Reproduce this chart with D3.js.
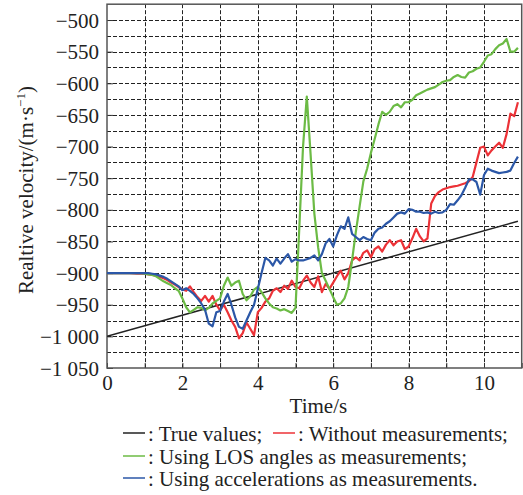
<!DOCTYPE html>
<html>
<head>
<meta charset="utf-8">
<script src="https://cdn.jsdelivr.net/npm/d3@7"></script>
<style>
  body { margin: 0; background: #fff; }
  svg text { font-family: "Liberation Serif", "DejaVu Serif", serif; fill: #222; }
</style>
</head>
<body>
<div id="chart"></div>
<script>
// sample times (s)
const times = [
  0.0, 0.1, 0.2, 0.3, 0.4, 0.5, 0.6, 0.7, 0.8, 0.9,
  1.0, 1.1, 1.2, 1.3, 1.4, 1.5, 1.6, 1.7, 1.8, 1.9,
  2.0, 2.1, 2.2, 2.3, 2.4, 2.5, 2.6, 2.7, 2.8, 2.9,
  3.0, 3.1, 3.2, 3.3, 3.4, 3.5, 3.6, 3.7, 3.8, 3.9,
  4.0, 4.1, 4.2, 4.3, 4.4, 4.5, 4.6, 4.7, 4.8, 4.9,
  5.0, 5.1, 5.2, 5.3, 5.4, 5.5, 5.6, 5.7, 5.8, 5.9,
  6.0, 6.1, 6.2, 6.3, 6.4, 6.5, 6.6, 6.7, 6.8, 6.9,
  7.0, 7.1, 7.2, 7.3, 7.4, 7.5, 7.6, 7.7, 7.8, 7.9,
  8.0, 8.1, 8.2, 8.3, 8.4, 8.5, 8.6, 8.7, 8.8, 8.9,
  9.0, 9.1, 9.2, 9.3, 9.4, 9.5, 9.6, 9.7, 9.8, 9.9,
  10.0, 10.1, 10.2, 10.3, 10.4, 10.5, 10.6, 10.7, 10.8, 10.9
];

// true values: straight line
const trueTimes = [0, 10.9];
const trueValues = [-1000, -818];

const withoutMeas = [
  -900, -900, -900, -900, -900, -900, -900, -900.5, -901, -900.5,
  -901, -902, -903, -904, -906, -908, -911, -915, -918, -922,
  -926, -928, -921, -930, -938, -944, -936, -945, -936, -950,
  -959, -950, -962, -975, -985, -1003, -995, -978, -988, -998,
  -962, -955, -945, -940, -928, -924, -930, -920, -925, -912,
  -922, -924, -912, -904, -915, -922, -905, -930, -917, -925,
  -915, -905, -896, -910, -900, -880, -875, -880, -868, -864,
  -875, -862, -858, -866, -855, -848, -856, -850, -848, -862,
  -858, -845, -830, -842, -850, -845, -790, -778, -772, -768,
  -766, -764, -763, -762, -760, -758, -755, -748, -725, -702,
  -700, -714, -706, -700, -694, -702, -680, -648, -652, -630
];

const losMeas = [
  -900, -900, -900, -900, -900, -900, -900, -900, -900, -900,
  -901, -902, -903, -905, -909, -913, -916, -919, -924, -928,
  -940, -954, -962, -958, -954, -955, -959, -955, -948, -944,
  -940, -920, -907, -920, -915, -912, -933, -943, -937, -926,
  -922, -930, -940, -948, -954, -956, -959, -957, -960, -963,
  -955, -830, -700, -621, -712, -806, -859, -900, -912, -925,
  -938, -950, -948, -940, -922, -880, -835, -795, -755, -735,
  -710, -688, -665, -645, -650, -645, -636, -633, -638, -630,
  -630, -626, -619, -616, -613, -610, -608, -606, -602, -598,
  -596, -595, -590, -587, -590, -591, -583, -581, -577, -575,
  -566, -556, -554, -546, -540, -537, -530, -550, -550, -544
];

const accMeas = [
  -900, -900, -900, -900, -900, -900, -900, -900, -900, -900,
  -900, -900, -901, -902, -904, -906, -909, -913, -917, -921,
  -927, -924, -928, -933, -940, -948, -958, -980, -984, -962,
  -960, -945, -933, -950, -970, -985, -988, -975, -962, -950,
  -925, -900, -876, -880, -888, -877, -885, -877, -870, -882,
  -878, -880, -880, -878, -876, -872, -880, -870, -853, -846,
  -858, -840, -826, -830, -812, -838, -843, -848, -843, -846,
  -848, -836, -830, -828, -822, -818, -812, -806, -804, -806,
  -799, -800, -803, -803, -805, -804, -806, -803, -805, -804,
  -800, -791, -792, -785, -777, -765, -752, -752, -756, -776,
  -745, -735, -738, -740, -742, -741, -740, -738, -726, -716
];

const xTicks = [0, 2, 4, 6, 8, 10];
const xGrid = [1, 2, 3, 4, 5, 6, 7, 8, 9, 10];
const xMinor = [0, 1, 2, 3, 4, 5, 6, 7, 8, 9, 10, 11];
const yTicks = [-500, -550, -600, -650, -700, -750, -800, -850, -900, -950, -1000, -1050];
const yGrid = [-500, -525, -550, -575, -600, -625, -650, -675, -700, -725, -750, -775, -800,
  -825, -850, -875, -900, -925, -950, -975, -1000, -1025];

const width = 523;
const height = 495;
const plotLeft = 107, plotRight = 521.7, plotTop = 4.2, plotBottom = 368;

const svg = d3.select("#chart")
  .append("svg")
  .attr("width", width)
  .attr("height", height);

const x = d3.scaleLinear().domain([0, 11]).range([plotLeft, plotRight]);
const y = d3.scaleLinear().domain([-1050, -475]).range([plotBottom, plotTop]);

function formatY(v) {
  const s = String(Math.abs(v));
  const body = s.length > 3 ? s.slice(0, s.length - 3) + " " + s.slice(-3) : s;
  return "\u2212" + body;
}

// grid
svg.append("g")
  .selectAll("line")
  .data(yGrid)
  .enter()
  .append("line")
  .attr("x1", plotLeft)
  .attr("x2", plotRight)
  .attr("y1", (d) => Math.round(y(d)) + 0.5)
  .attr("y2", (d) => Math.round(y(d)) + 0.5)
  .attr("stroke", "#222")
  .attr("stroke-width", 1)
  .attr("stroke-dasharray", "4,2");

svg.append("g")
  .selectAll("line")
  .data(xGrid)
  .enter()
  .append("line")
  .attr("x1", (d) => Math.round(x(d)) + 0.5)
  .attr("x2", (d) => Math.round(x(d)) + 0.5)
  .attr("y1", plotTop)
  .attr("y2", plotBottom)
  .attr("stroke", "#222")
  .attr("stroke-width", 1)
  .attr("stroke-dasharray", "4,2");

// axes
const xAxis = d3.axisBottom(x)
  .tickValues(xMinor)
  .tickSize(-5)
  .tickFormat((d) => (xTicks.includes(d) ? d : ""));

const gx = svg.append("g")
  .attr("transform", `translate(0,${plotBottom})`)
  .call(xAxis);
gx.select(".domain").remove();
gx.selectAll(".tick line").attr("stroke", "#333");
gx.selectAll(".tick text")
  .attr("y", 22)
  .attr("dy", 0)
  .style("font-size", "21px")
  .style("font-family", "Liberation Serif");

const yAxis = d3.axisLeft(y)
  .tickValues(yTicks)
  .tickSize(-6)
  .tickPadding(8)
  .tickFormat(formatY);

const gy = svg.append("g")
  .attr("transform", `translate(${plotLeft},0)`)
  .call(yAxis);
gy.select(".domain").remove();
gy.selectAll(".tick line").attr("stroke", "#333");
gy.selectAll(".tick text")
  .attr("x", -8)
  .attr("dy", "0.34em")
  .style("font-size", "21px")
  .style("font-family", "Liberation Serif");

// frame
svg.append("rect")
  .attr("x", plotLeft)
  .attr("y", plotTop)
  .attr("width", plotRight - plotLeft)
  .attr("height", plotBottom - plotTop)
  .attr("fill", "none")
  .attr("stroke", "#555")
  .attr("stroke-width", 1.5);

// series
svg.append("clipPath").attr("id", "plot-clip")
  .append("rect")
  .attr("x", plotLeft).attr("y", plotTop)
  .attr("width", plotRight - plotLeft).attr("height", plotBottom - plotTop);

const line = d3.line()
  .x((d) => x(d[0]))
  .y((d) => y(d[1]));

const series = [
  { values: withoutMeas, color: "#ec3237" },
  { values: losMeas, color: "#6cbb45" },
  { values: accMeas, color: "#2b57a7" }
];

const plot = svg.append("g").attr("clip-path", "url(#plot-clip)");

plot.append("path")
  .datum(trueTimes.map((t, i) => [t, trueValues[i]]))
  .attr("d", line)
  .attr("fill", "none")
  .attr("stroke", "#222")
  .attr("stroke-width", 1.5);

series.forEach((s) => {
  plot.append("path")
    .datum(times.map((t, i) => [t, s.values[i]]))
    .attr("d", line)
    .attr("fill", "none")
    .attr("stroke", s.color)
    .attr("stroke-width", 2.2)
    .attr("stroke-linejoin", "round");
});

// axis titles
svg.append("text")
  .attr("x", (plotLeft + plotRight) / 2 + 4)
  .attr("y", 413)
  .attr("text-anchor", "middle")
  .style("font-size", "21px")
  .text("Time/s");

const yTitle = svg.append("text")
  .attr("transform", `translate(33,${(plotTop + plotBottom) / 2 + 4}) rotate(-90)`)
  .attr("text-anchor", "middle")
  .style("font-size", "21px");
yTitle.append("tspan").text("Realtive velocity/(m\u00b7s");
yTitle.append("tspan").attr("dy", -8).style("font-size", "13px").text("\u22121");
yTitle.append("tspan").attr("dy", 8).text(")");

// legend
const legendRows = [
  { y: 441, items: [{ x: 123, color: "#222", label: ": True values;" }, { x: 273, color: "#ec3237", label: ": Without measurements;" }] },
  { y: 464, items: [{ x: 123, color: "#6cbb45", label: ": Using LOS angles as measurements;" }] },
  { y: 486, items: [{ x: 123, color: "#2b57a7", label: ": Using accelerations as measurements." }] }
];

legendRows.forEach((row) => {
  row.items.forEach((item) => {
    svg.append("line")
      .attr("x1", item.x)
      .attr("x2", item.x + 22)
      .attr("y1", row.y - 8)
      .attr("y2", row.y - 8)
      .attr("stroke", item.color)
      .attr("stroke-width", 1.5);
    svg.append("text")
      .attr("x", item.x + 25)
      .attr("y", row.y)
      .style("font-size", "21px")
      .text(item.label);
  });
});
</script>
</body>
</html>
